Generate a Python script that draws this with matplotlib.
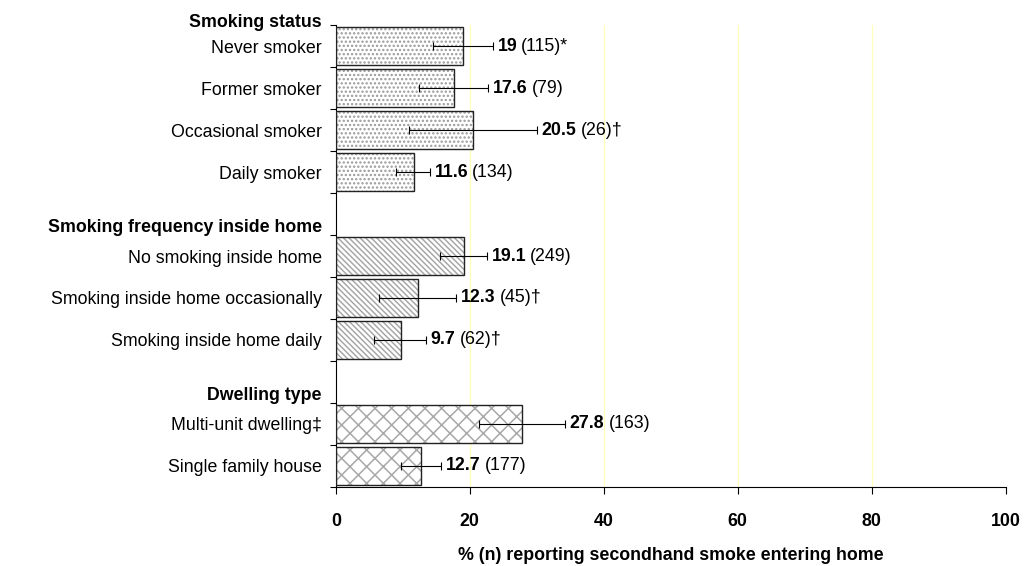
import numpy as np
import matplotlib.pyplot as plt

plt.rcParams['font.family'] = ['Liberation Sans', 'DejaVu Sans']
plt.rcParams['hatch.linewidth'] = 1.1

# slot 4 and 8 are empty rows used for the group headings
labels = ['Never smoker', 'Former smoker', 'Occasional smoker', 'Daily smoker', '',
          'No smoking inside home', 'Smoking inside home occasionally',
          'Smoking inside home daily', '',
          'Multi-unit dwelling\u2021', 'Single family house']
values = [19, 17.6, 20.5, 11.6, None, 19.1, 12.3, 9.7, None, 27.8, 12.7]
lower = [14.5, 12.4, 10.9, 9.0, None, 15.5, 6.4, 5.7, None, 21.3, 9.7]
upper = [23.4, 22.7, 30.0, 14.0, None, 22.5, 17.9, 13.4, None, 34.2, 15.7]
value_txt = ['19', '17.6', '20.5', '11.6', '', '19.1', '12.3', '9.7', '', '27.8', '12.7']
n_txt = ['(115)*', '(79)', '(26)\u2020', '(134)', '', '(249)', '(45)\u2020', '(62)\u2020', '',
         '(163)', '(177)']
dots = '.' * 4
diag = '\\' * 6
cross = 'xx'
hatches = [dots, dots, dots, dots, '', diag, diag, diag, '', cross, cross]
hatch_col = ['#999999'] * 4 + [''] + ['#a8a8a8'] * 3 + [''] + ['#a8a8a8'] * 2

headers = ['Smoking status', 'Smoking frequency inside home', 'Dwelling type']
header_pos = [-0.57, 4.31, 8.31]

fig = plt.figure(figsize=(10.24, 5.66), dpi=100)
ax = fig.add_axes([0.328, 0.1396, 0.654, 0.8162])

fs = 12.8
for i in range(len(labels)):
    if values[i] is None:
        continue
    # hatch layer in grey, then black outline on top
    ax.barh(i, values[i], height=0.9, color='white', edgecolor=hatch_col[i],
            hatch=hatches[i], linewidth=0, zorder=2)
    ax.barh(i, values[i], height=0.9, fill=False, edgecolor='#222222',
            linewidth=1.0, zorder=3)
    ax.errorbar(values[i], i, xerr=[[values[i] - lower[i]], [upper[i] - values[i]]],
                fmt='none', ecolor='black', elinewidth=0.8, capsize=3, capthick=0.8,
                zorder=4)
    t1 = ax.annotate(value_txt[i], xy=(upper[i], i), xytext=(3.5, 0),
                     textcoords='offset points', va='center', ha='left',
                     fontsize=fs, fontweight='bold')
    ax.annotate(n_txt[i], xy=(1, 0.5), xycoords=t1, xytext=(3, 0),
                textcoords='offset points', va='center', ha='left', fontsize=fs)

ax.set_xlim(0, 100)
ax.set_ylim(10.5, -0.5)
ax.set_xticks(np.arange(0, 101, 20))
ax.set_xticklabels([str(v) for v in range(0, 101, 20)], fontsize=fs, fontweight='bold')
ax.tick_params(axis='x', length=5, width=0.8, pad=14)

ax.set_yticks(range(len(labels)))
ax.set_yticklabels(labels, fontsize=fs)
ax.set_yticks(np.arange(-0.5, 11, 1), minor=True)
ax.tick_params(axis='y', which='major', length=0, pad=10)
ax.tick_params(axis='y', which='minor', length=4, width=0.8)

for h, y in zip(headers, header_pos):
    ax.text(-0.021, y, h, transform=ax.get_yaxis_transform(), ha='right',
            va='center', fontsize=fs, fontweight='bold')

for g in [20, 40, 60, 80]:
    ax.axvline(g, color='#ffffc0', linewidth=1, zorder=0)

ax.spines['top'].set_visible(False)
ax.spines['right'].set_visible(False)
ax.spines['left'].set_linewidth(0.8)
ax.spines['bottom'].set_linewidth(0.8)

ax.set_xlabel('% (n) reporting secondhand smoke entering home', fontsize=fs,
              fontweight='bold', labelpad=12)

fig.savefig('out.png', dpi=100)
